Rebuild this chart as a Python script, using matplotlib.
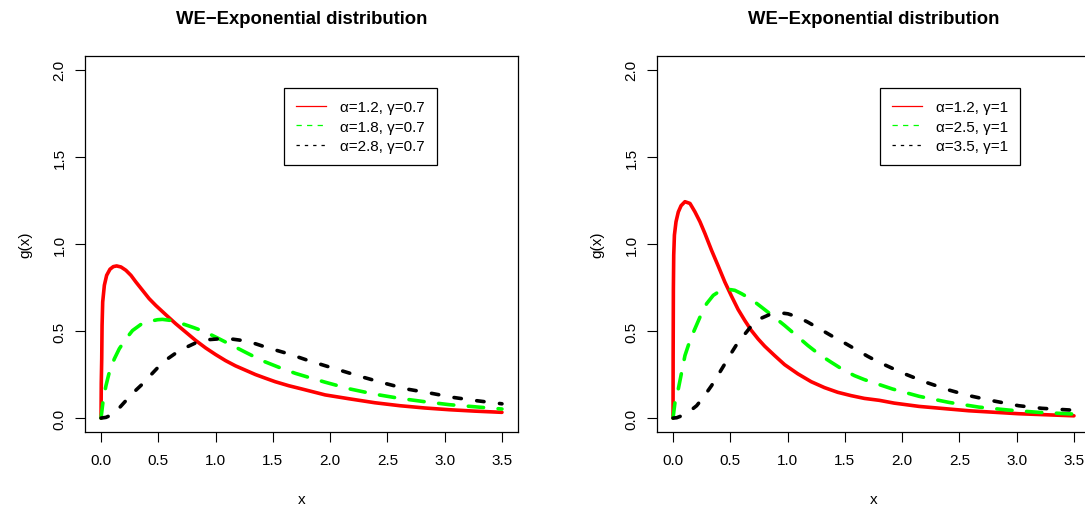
import matplotlib
matplotlib.use('Agg')
import matplotlib.pyplot as plt
from matplotlib.lines import Line2D

plt.rcParams['font.family'] = ['Liberation Sans', 'DejaVu Sans']
plt.rcParams['lines.scale_dashes'] = False

# ---------------- data ----------------
title_text = "WE\u2212Exponential distribution"
x_label = "x"
y_label = "g(x)"
x_ticks = [0.0, 0.5, 1.0, 1.5, 2.0, 2.5, 3.0, 3.5]
x_tick_labels = ["0.0", "0.5", "1.0", "1.5", "2.0", "2.5", "3.0", "3.5"]
y_ticks = [0.0, 0.5, 1.0, 1.5, 2.0]
y_tick_labels = ["0.0", "0.5", "1.0", "1.5", "2.0"]

# Left panel (gamma = 0.7)
left_labels = ["\u03b1=1.2, \u03b3=0.7", "\u03b1=1.8, \u03b3=0.7", "\u03b1=2.8, \u03b3=0.7"]
left_red_x = [0.0, 0.002, 0.006, 0.009, 0.0145, 0.029, 0.049, 0.078, 0.107, 0.136, 0.174,
              0.217, 0.261, 0.304, 0.362, 0.42, 0.478, 0.565, 0.652, 0.739, 0.826, 0.913,
              1.0, 1.087, 1.174, 1.261, 1.348, 1.435, 1.52, 1.638, 1.754, 1.957, 2.174,
              2.391, 2.609, 2.826, 3.04, 3.26, 3.5]
left_red_y = [0.0, 0.2, 0.34, 0.532, 0.667, 0.763, 0.82, 0.855, 0.870, 0.874, 0.868,
              0.849, 0.82, 0.782, 0.734, 0.686, 0.647, 0.594, 0.542, 0.494, 0.446, 0.403,
              0.365, 0.33, 0.30, 0.275, 0.25, 0.229, 0.209, 0.186, 0.167, 0.133, 0.11,
              0.088, 0.071, 0.058, 0.048, 0.04, 0.033]
left_green_x = [0.0, 0.02, 0.043, 0.072, 0.116, 0.159, 0.217, 0.275, 0.348, 0.42, 0.493,
                0.536, 0.609, 0.71, 0.812, 0.913, 1.014, 1.116, 1.261, 1.406, 1.551, 1.696,
                1.812, 1.957, 2.174, 2.391, 2.609, 2.826, 3.04, 3.26, 3.5]
left_green_y = [0.0, 0.11, 0.186, 0.263, 0.34, 0.398, 0.455, 0.503, 0.538, 0.555, 0.565,
                0.567, 0.561, 0.542, 0.519, 0.494, 0.461, 0.427, 0.378, 0.33, 0.292, 0.257,
                0.234, 0.206, 0.167, 0.137, 0.113, 0.094, 0.077, 0.065, 0.052]
left_black_x = [0.0, 0.043, 0.087, 0.13, 0.203, 0.275, 0.362, 0.435, 0.507, 0.58, 0.652,
                0.739, 0.826, 0.928, 1.029, 1.13, 1.232, 1.348, 1.464, 1.638, 1.812, 2.03,
                2.26, 2.464, 2.667, 2.87, 3.07, 3.276, 3.5]
left_black_y = [0.0, 0.004, 0.017, 0.037, 0.09, 0.142, 0.196, 0.248, 0.298, 0.34, 0.373,
                0.405, 0.432, 0.45, 0.455, 0.455, 0.446, 0.427, 0.402, 0.369, 0.33, 0.286,
                0.24, 0.202, 0.167, 0.144, 0.119, 0.10, 0.082]

# Right panel (gamma = 1)
right_labels = ["\u03b1=1.2, \u03b3=1", "\u03b1=2.5, \u03b3=1", "\u03b1=3.5, \u03b3=1"]
right_red_x = [0.0, 0.0009, 0.003, 0.006, 0.012, 0.026, 0.046, 0.07, 0.104, 0.148, 0.191,
               0.235, 0.278, 0.336, 0.394, 0.452, 0.51, 0.568, 0.626, 0.684, 0.742, 0.80,
               0.887, 0.974, 1.09, 1.206, 1.322, 1.438, 1.554, 1.67, 1.80, 1.93, 2.148,
               2.583, 3.017, 3.5]
right_red_y = [0.0, 0.359, 0.744, 0.936, 1.051, 1.128, 1.184, 1.22, 1.243, 1.233, 1.185,
               1.128, 1.061, 0.964, 0.874, 0.782, 0.701, 0.624, 0.561, 0.503, 0.455, 0.413,
               0.359, 0.307, 0.254, 0.209, 0.175, 0.148, 0.129, 0.113, 0.102, 0.086, 0.067,
               0.042, 0.025, 0.013]
right_green_x = [0.0, 0.017, 0.046, 0.075, 0.104, 0.148, 0.191, 0.235, 0.293, 0.351, 0.409,
                 0.481, 0.539, 0.597, 0.684, 0.771, 0.872, 0.974, 1.075, 1.177, 1.278, 1.38,
                 1.481, 1.583, 1.67, 1.916, 2.148, 2.409, 2.67, 2.93, 3.19, 3.5]
right_green_y = [0.0, 0.09, 0.167, 0.263, 0.359, 0.446, 0.513, 0.58, 0.657, 0.705, 0.73,
                 0.74, 0.734, 0.715, 0.682, 0.638, 0.586, 0.532, 0.475, 0.417, 0.365, 0.321,
                 0.279, 0.244, 0.221, 0.167, 0.125, 0.09, 0.063, 0.046, 0.033, 0.023]
right_black_x = [0.0, 0.032, 0.075, 0.133, 0.206, 0.264, 0.336, 0.394, 0.452, 0.51, 0.568,
                 0.641, 0.699, 0.771, 0.858, 0.93, 1.003, 1.09, 1.177, 1.278, 1.38, 1.496,
                 1.612, 1.699, 1.785, 2.003, 2.206, 2.409, 2.583, 2.786, 3.017, 3.22, 3.5]
right_black_y = [0.0, 0.002, 0.013, 0.033, 0.071, 0.119, 0.186, 0.248, 0.311, 0.375, 0.436,
                 0.494, 0.542, 0.574, 0.599, 0.605, 0.599, 0.58, 0.551, 0.513, 0.474, 0.432,
                 0.388, 0.355, 0.325, 0.259, 0.206, 0.161, 0.129, 0.10, 0.071, 0.056, 0.045]

# ---------------- styles ----------------
RED, GREEN, BLACK = '#FF0000', '#00FF00', '#000000'
LW = 2.6
curve_styles = [
    dict(color=RED, lw=LW, ls='-', solid_capstyle='round', solid_joinstyle='round'),
    dict(color=GREEN, lw=LW, ls=(0, (11.0, 10.5)), dash_capstyle='round', dash_joinstyle='round'),
    dict(color=BLACK, lw=LW, ls=(0, (5.3, 11.2)), dash_capstyle='round', dash_joinstyle='round'),
]
legend_styles = [
    dict(color=RED, lw=0.9, ls='-'),
    dict(color=GREEN, lw=0.9, ls=(0, (3.8, 3.8))),
    dict(color=BLACK, lw=0.9, ls=(0, (2.4, 3.6))),
]

FS = 11

fig = plt.figure(figsize=(10.85, 5.10), dpi=100)
ax_l = fig.add_axes([85 / 1085, 77 / 510, 433 / 1085, 376 / 510])
ax_r = fig.add_axes([657 / 1085, 77 / 510, 433 / 1085, 376 / 510])

panels = [
    (ax_l, [(left_red_x, left_red_y), (left_green_x, left_green_y), (left_black_x, left_black_y)],
     left_labels, (284 - 85) / 433),
    (ax_r, [(right_red_x, right_red_y), (right_green_x, right_green_y), (right_black_x, right_black_y)],
     right_labels, (880 - 657) / 433),
]

for ax, series, labels, leg_x in panels:
    for (xs, ys), st in zip(series, curve_styles):
        ax.plot(xs, ys, **st)
    ax.set_xlim(-0.14, 3.64)
    ax.set_ylim(-0.08, 2.08)
    ax.set_xticks(x_ticks)
    ax.set_xticklabels(x_tick_labels, fontsize=FS)
    ax.set_yticks(y_ticks)
    ax.set_yticklabels(y_tick_labels, fontsize=FS, rotation=90, va='center')
    ax.tick_params(direction='out', length=7.2, width=0.8, color='black')
    ax.tick_params(axis='x', pad=8)
    ax.tick_params(axis='y', pad=6)
    for s in ax.spines.values():
        s.set_linewidth(0.9)
        s.set_color('black')
    ax.set_xlabel(x_label, fontsize=FS)
    ax.xaxis.set_label_coords(0.5, (433 - 500) / 376)
    ax.xaxis.label.set_va('center')
    ax.set_ylabel(y_label, fontsize=FS)
    ax.yaxis.set_label_coords((25 - 85) / 433, 0.5)
    ax.yaxis.label.set_va('center')
    ax.text(0.5, (433 - 24) / 376, title_text, transform=ax.transAxes, ha='center',
            va='baseline', fontsize=13.3, fontweight='bold')
    handles = [Line2D([], [], **st) for st in legend_styles]
    leg = ax.legend(handles, labels, loc='upper left', bbox_to_anchor=(leg_x, (433 - 89) / 376),
                    borderaxespad=0, frameon=True, fancybox=False, edgecolor='black',
                    framealpha=1, fontsize=FS, handlelength=1.95, handletextpad=0.9,
                    borderpad=0.8, labelspacing=0.35)
    leg.get_frame().set_linewidth(0.9)

fig.savefig('out.png', dpi=100)
